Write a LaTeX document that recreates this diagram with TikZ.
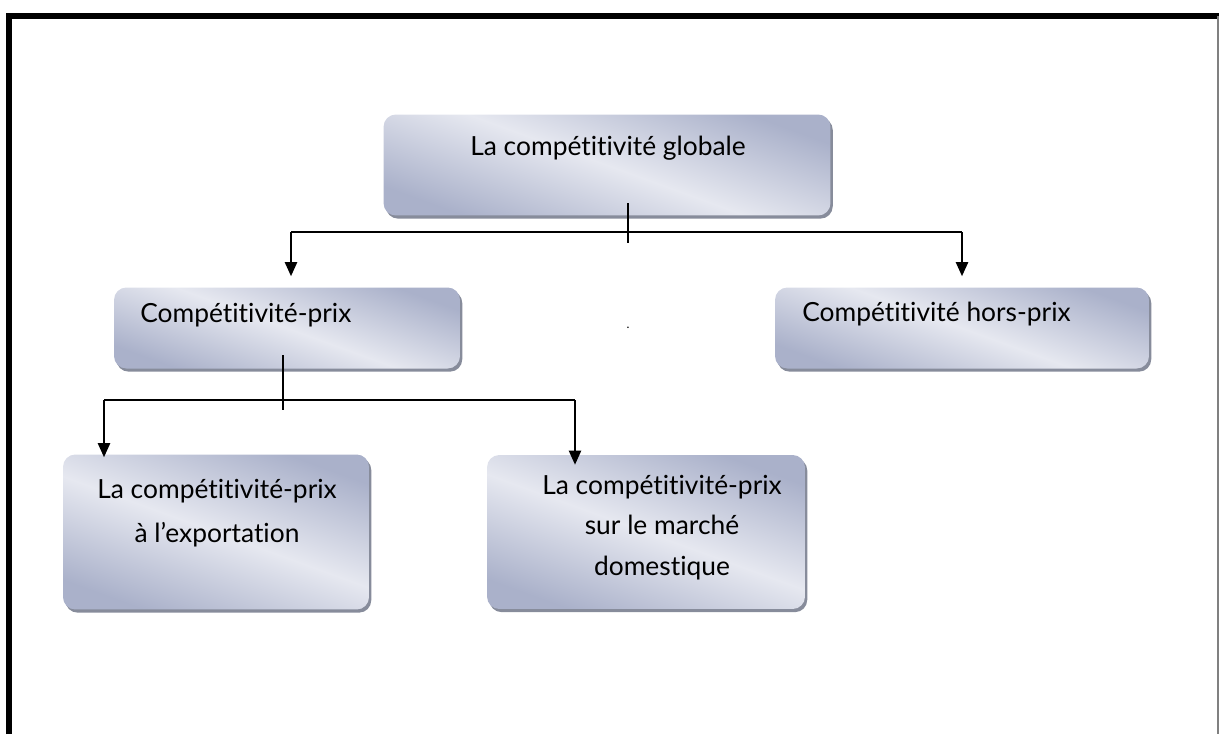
\documentclass[tikz,border=0pt]{standalone}
\usepackage{fontspec}
\setmainfont{Lato}[Ligatures=NoCommon]
\usetikzlibrary{arrows.meta,shadows}
\definecolor{boxdark}{RGB}{170,177,202}
\definecolor{boxlight}{RGB}{230,232,240}
\definecolor{boxshadow}{RGB}{135,140,155}
\tikzset{
  boxnode/.style={rounded corners=7pt, left color=boxdark, right color=boxdark,
    middle color=boxlight, shading angle=160,
    drop shadow={shadow xshift=1.3pt, shadow yshift=-1.8pt, fill=boxshadow, opacity=1}},
  boxtext/.style={font=\fontsize{15}{25}\selectfont, inner sep=0pt},
  link/.style={line width=0.9pt},
  arr/.style={link, -{Triangle[width=7pt,length=8pt]}}
}
\begin{document}
\begin{tikzpicture}[x=0.02cm,y=-0.02cm]
            \useasboundingbox (0,0) rectangle (1219,734);
            % frame
            \draw[line width=0.12cm] (9,734) -- (9,16) -- (1219,16);
            \draw[line width=0.03cm, gray] (1218,16) -- (1218,734);
            % boxes
            \node[boxnode, minimum width=8.94cm, minimum height=2.02cm] (glob) at (607,165) {};
            \node[boxnode, minimum width=6.92cm, minimum height=1.62cm] (prix) at (287,328) {};
            \node[boxnode, minimum width=7.48cm, minimum height=1.62cm] (hors) at (962,328) {};
            \node[boxnode, minimum width=6.12cm, minimum height=3.1cm] (expo) at (216,532) {};
            \node[boxnode, minimum width=6.36cm, minimum height=3.08cm] (dom) at (646,532) {};
            % texts
            \node[boxtext, anchor=base] (globtxt) at (608,155) {La compétitivité globale};
            \node[boxtext, anchor=base west] (prixtxt) at (140,322) {Compétitivité-prix};
            \node[boxtext, anchor=base west] (horstxt) at (802,321) {Compétitivité hors-prix};
            \node[boxtext, anchor=base, align=center] (expotxt) at (217,542) {La compétitivité-prix\\à l’exportation};
            \node[boxtext, anchor=base, align=center, font=\fontsize{15}{23}\selectfont] (domtxt) at (662,575) {La compétitivité-prix\\sur le marché\\domestique};
            \node[font=\fontsize{7}{8}\selectfont, inner sep=0pt, anchor=base] (mid) at (628,328) {.};
            % first level
            \coordinate (gtop) at (628,203);
            \coordinate (gbot) at (628,243);
            \coordinate (gl) at (291,232);
            \coordinate (gr) at (962,232);
            \draw[link] (gtop) -- (gbot);
            \draw[link] (gl) -- (gr);
            \draw[arr, shorten >=0.22cm] (gl) -- (gl |- prix.north);
            \draw[arr, shorten >=0.22cm] (gr) -- (gr |- hors.north);
            % second level
            \coordinate (ptop) at (283,355);
            \coordinate (pbot) at (283,410);
            \coordinate (pl) at (104,400);
            \coordinate (pr) at (575,400);
            \draw[link] (ptop) -- (pbot);
            \draw[link] (pl) -- (pr);
            \draw[arr, shorten >=-0.06cm] (pl) -- (pl |- expo.north);
            \draw[arr, shorten >=-0.2cm] (pr) -- (pr |- dom.north);
         \end{tikzpicture}
\end{document}
